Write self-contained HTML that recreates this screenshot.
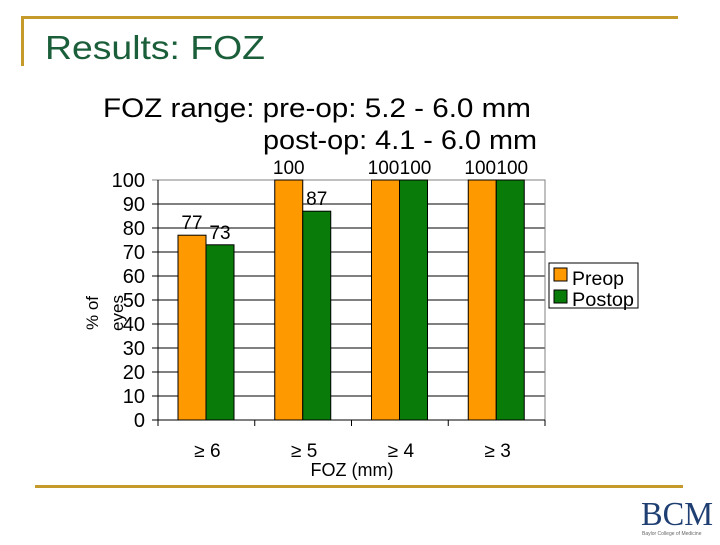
<!DOCTYPE html>
<html><head><meta charset="utf-8"><style>
body{margin:0;width:720px;height:540px;background:#fff;overflow:hidden;font-family:"Liberation Sans",sans-serif;}
</style></head><body>
<svg width="720" height="540" xmlns="http://www.w3.org/2000/svg" font-family="Liberation Sans, sans-serif">
<rect x="22" y="16" width="656" height="3" fill="#C49A2A"/>
<rect x="21" y="16" width="3" height="50" fill="#C49A2A"/>
<text x="45" y="59" font-size="33" fill="#1A5E3A" textLength="220" lengthAdjust="spacingAndGlyphs">Results:  FOZ</text>
<text x="103" y="117" font-size="27" fill="#000" textLength="428" lengthAdjust="spacingAndGlyphs">FOZ range:  pre-op:   5.2 - 6.0 mm</text>
<text x="263" y="149" font-size="27" fill="#000" textLength="274" lengthAdjust="spacingAndGlyphs">post-op:  4.1 - 6.0 mm</text>
<rect x="35" y="485" width="648" height="3" fill="#C49A2A"/>
<text x="641" y="525" font-size="34" font-family="Liberation Serif, serif" fill="#1F3F73" textLength="72" lengthAdjust="spacingAndGlyphs">BCM</text>
<text x="642" y="535" font-size="5" fill="#666">Baylor College of Medicine</text>
<g id="chart"></g>
<g>
<rect x="549" y="263" width="89" height="45" fill="#fff" stroke="#000"/>
<rect x="554" y="268" width="13" height="13" fill="#FF9900" stroke="#000"/>
<text x="572" y="285" font-size="19" textLength="52" lengthAdjust="spacingAndGlyphs">Preop</text>
<rect x="554" y="290" width="13" height="13" fill="#087B08" stroke="#000"/>
<text x="572" y="306" font-size="19" textLength="62" lengthAdjust="spacingAndGlyphs">Postop</text>
</g>
<text transform="translate(98,313) rotate(-90)" font-size="17" text-anchor="middle">% of</text>
<text transform="translate(123,313) rotate(-90)" font-size="17" text-anchor="middle">eyes</text>
<text x="352" y="476" font-size="18" text-anchor="middle">FOZ (mm)</text>
</svg>
<script>
const categories=["≥ 6","≥ 5","≥ 4","≥ 3"];
const preop=[77,100,100,100];
const postop=[73,87,100,100];
const yTicks=[0,10,20,30,40,50,60,70,80,90,100];
const NS="http://www.w3.org/2000/svg";
const g=document.getElementById('chart');
const L=158,R=545,T=180,B=420,ymax=100;
const y=v=>B-(v/ymax)*(B-T);
const cw=(R-L)/categories.length;
const x=i=>L+i*cw;
function mk(t,a){const e=document.createElementNS(NS,t);for(const k in a)e.setAttribute(k,a[k]);g.appendChild(e);return e;}
yTicks.forEach(v=>{
 const l=mk('line',{x1:L-6,x2:R,y1:y(v),y2:y(v),stroke:v===100?'#808080':'#000','stroke-width':1});
 
 
 const t=mk('text',{x:L-13,y:y(v)+7,'font-size':20,'text-anchor':'end'});
 t.textContent=v;
 
 
});
const border=mk('rect',{x:L,y:T,width:R-L,height:B-T,fill:'none',stroke:'#808080'});


const ax=mk('line',{x1:L,x2:L,y1:T,y2:B,stroke:'#000'});


categories.forEach((c,i)=>{
 const bw=28,x0=x(i)+20;
 [[preop,'#FF9900','bar-preop'],[postop,'#087B08','bar-postop']].forEach(([arr,col,nm],k)=>{
  const v=arr[i];
  const r=mk('rect',{x:x0+k*bw,y:y(v),width:bw,height:B-y(v),fill:col,stroke:'#000','stroke-width':1});
  
  
  const dx=(v===100&&arr[i]===(k?preop[i]:postop[i]))?(k?2:-2):0;
  const t=mk('text',{x:x0+k*bw+bw/2+dx,y:y(v)-6,'font-size':19,'text-anchor':'middle'});
  t.textContent=v;
  
  
 });
 const tk=mk('line',{x1:x(i+1),x2:x(i+1),y1:B,y2:B+6,stroke:'#000'});
 
 
 const ct=mk('text',{x:x(i)+cw/2+1,y:457,'font-size':19,'text-anchor':'middle'});
 ct.textContent=c;
 
 
});
const xa=mk('line',{x1:L-6,x2:R,y1:B,y2:B,stroke:'#000'});


const t0=mk('line',{x1:L,x2:L,y1:B,y2:B+6,stroke:'#000'});


</script>
</body></html>
